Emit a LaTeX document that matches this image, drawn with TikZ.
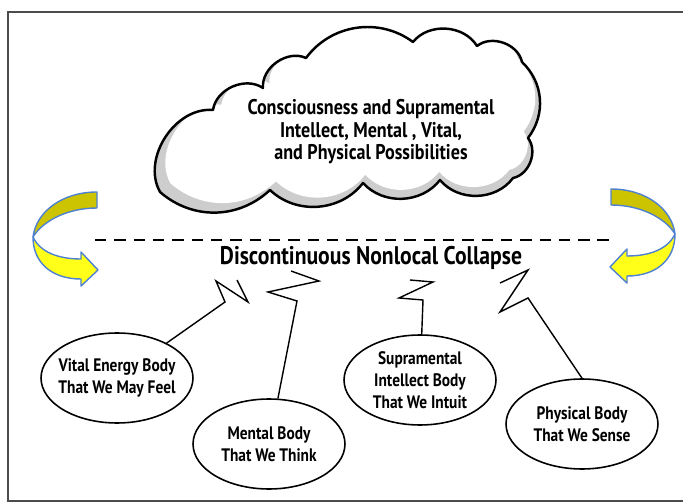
\documentclass[tikz,border=0pt]{standalone}
\usepackage{fontspec}
\setmainfont{PT Sans}[FakeStretch=0.85]
\usepackage{tikz}
\usetikzlibrary{arrows.meta, positioning, shapes.geometric, calc}
\definecolor{arrowyellow}{HTML}{FFFF1A}
\definecolor{arrowolive}{HTML}{CCC400}
\definecolor{arrowblue}{HTML}{4F81D0}
\definecolor{shadegray}{HTML}{CDCDCD}

% cloud outline, one puff per segment
\newcommand{\cloudpath}{(160,192) to[bend left=62] (213,110) to[bend left=58] (263,88)
  to[bend left=60] (306,58) to[bend left=45] (413,42) to[bend left=55] (477,46)
  to[bend left=58] (522,62) to[bend left=42] (528,138) to[bend left=58] (513,178)
  to[bend left=52] (440,180) to[bend left=50] (363,183) to[bend left=48] (270,190)
  to[bend left=42] (160,192) -- cycle}

% u-turn arrow, drawn for the left side
\newcommand{\turnarrow}{%
  \filldraw[backband] (97,192) .. controls (62,192) and (36,212) .. (33,237)
    .. controls (42,222) and (66,208) .. (97,208) -- cycle;
  \filldraw[frontband] (33,237) .. controls (40,252) and (58,259) .. (81,259)
    -- (81,252) -- (98,270) -- (81,286) -- (81,279)
    .. controls (52,279) and (33,263) .. (33,237) -- cycle;}

\begin{document}
\begin{tikzpicture}[
    x=0.02cm, y=-0.02cm,
    body/.style={ellipse, draw, line width=0.9pt, minimum width=3.04cm, minimum height=1.8cm, inner sep=0pt},
    bodytext/.style={font=\bfseries\fontsize{10.3}{12.5}\selectfont, align=center, inner sep=0pt},
    cloudtext/.style={font=\bfseries\fontsize{12.1}{12.8}\selectfont, align=center, inner sep=0pt},
    titletext/.style={font=\bfseries\fontsize{14.5}{16}\selectfont, inner sep=0pt},
    zig/.style={line width=0.8pt, line join=miter},
    backband/.style={fill=arrowolive, draw=arrowblue, line width=0.8pt, line join=round},
    frontband/.style={fill=arrowyellow, draw=arrowblue, line width=0.8pt, line join=round},
  ]
  \useasboundingbox (0,0) rectangle (683,503);

  % frame
  \draw[black!70, line width=1pt] (683,12) -- (8,12) -- (8,501) -- (683,501);

  % cloud with inner shading
  \begin{scope}
    \clip \cloudpath;
    \fill[shadegray] \cloudpath;
    \fill[white, shift={(2,-6)}, shift={(370,125)}, scale=0.96, shift={(-370,-125)}] \cloudpath;
  \end{scope}
  \draw[line width=1.4pt, line join=round] \cloudpath;
  \node[cloudtext] (possib) at (371,132) {Consciousness and Supramental\\Intellect, Mental , Vital,\\and Physical Possibilities};

  % collapse line and title
  \coordinate (dashl) at (95,240);
  \coordinate (dashr) at (612,240);
  \draw[line width=0.9pt, dash pattern=on 6.5pt off 4.5pt] (dashl) -- (dashr);
  \node[titletext] (collapse) at (371,258) {Discontinuous Nonlocal Collapse};

  % turning arrows
  \turnarrow
  \begin{scope}[shift={(708,-3)}, xscale=-1]
    \turnarrow
  \end{scope}

  % the four bodies
  \node[body, label={[bodytext]center:{Vital Energy Body\\That We May Feel}}] (vital) at (117,378) {};
  \node[body, label={[bodytext]center:{Mental Body\\That We Think}}] (mental) at (269,444) {};
  \node[body, label={[bodytext]center:{Supramental\\Intellect Body\\That We Intuit}}] (supra) at (420,380) {};
  \node[body, label={[bodytext]center:{Physical Body\\That We Sense}}] (phys) at (582,424) {};

  % lightning connectors
  \coordinate (zvital) at (237,280);
  \coordinate (zmental) at (291,271);
  \coordinate (zsupra) at (410,280);
  \coordinate (zphys) at (500,283);
  \draw[zig] (vital) -- (225,302) -- (216,281) -- (248,302) -- (zvital);
  \draw[zig] (mental) -- (297,301) -- (268,292) -- (319,281) -- (zmental);
  \draw[zig] (supra) -- (423,300) -- (399,298) -- (433,282) -- (zsupra);
  \draw[zig] (phys.north) -- (528,298) -- (500,312) -- (528,270) -- (zphys);
\end{tikzpicture}
\end{document}
